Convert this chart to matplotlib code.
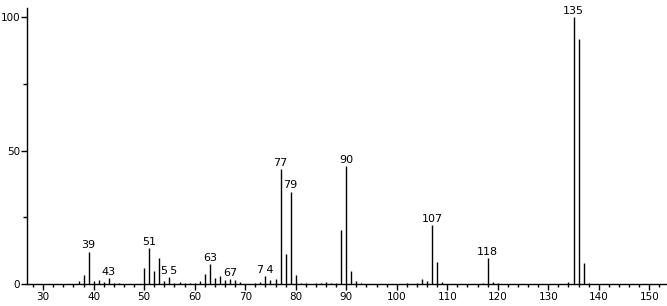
import matplotlib
matplotlib.use("Agg")
import matplotlib.pyplot as plt
from matplotlib.ticker import MultipleLocator

# m/z values and relative intensities
mz = [37, 38, 39, 40, 41, 42, 43, 44, 45,
      50, 51, 52, 53, 54, 55, 56, 57, 58, 59, 60, 61, 62, 63, 64, 65, 66, 67, 68, 69,
      72, 73, 74, 75, 76, 77, 78, 79, 80, 81, 82, 84, 85, 86, 87, 88,
      89, 90, 91, 92, 93, 102, 104, 105, 106, 107, 108, 109,
      117, 118, 119, 120, 134, 135, 136, 137, 138]
intensity = [1.0, 3.4, 12.1, 1.0, 1.5, 0.7, 2.2, 0.5, 0.4,
             6.0, 13.4, 4.9, 9.6, 1.2, 2.6, 0.5, 0.8, 0.5, 0.5, 0.3, 1.0, 3.7, 7.5, 2.4, 3.0, 1.5, 1.9, 1.5, 0.7,
             0.5, 0.6, 3.0, 1.5, 1.8, 43.0, 11.1, 34.6, 3.4, 0.5, 0.5, 0.5, 0.5, 0.6, 0.5, 0.5,
             20.2, 44.2, 5.0, 1.0, 0.4, 0.4, 0.4, 1.8, 1.0, 22.0, 8.1, 0.8,
             0.4, 9.6, 0.7, 0.4, 0.6, 100.0, 91.6, 7.7, 0.5]
labeled = [39, 43, 51, 55, 63, 67, 74, 77, 79, 90, 107, 118, 135]
label_text = ["39", "43", "51", "5\u20095", "63", "67", "7\u20094", "77", "79", "90", "107", "118", "135"]

xticks = list(range(30, 151, 10))
yticks = [0, 50, 100]

plt.rcParams['font.family'] = ['DejaVu Sans']
fig = plt.figure(figsize=(6.67, 3.06), dpi=100)
ax = fig.add_axes([27/667, 22/306, 1 - 27/667, (284 - 8)/306])

ax.vlines(mz, 0, intensity, colors='black', linewidth=1.0)

lookup = dict(zip(mz, intensity))
for m, t in zip(labeled, label_text):
    ax.annotate(t, (m, lookup[m]), xytext=(0, 1), textcoords='offset points',
                ha='center', va='bottom', fontsize=8, color='black')

ax.set_xlim(26.8, 153.5)
ax.set_ylim(0, 103.4)
ax.set_xticks(xticks)
ax.set_yticks(yticks)
ax.xaxis.set_minor_locator(MultipleLocator(2))
ax.yaxis.set_minor_locator(MultipleLocator(25))
for s in ['top', 'right']:
    ax.spines[s].set_visible(False)
for s in ['left', 'bottom']:
    ax.spines[s].set_linewidth(1.0)
ax.tick_params(axis='x', which='major', direction='out', length=4, width=1.0, labelsize=7.5, pad=2)
ax.tick_params(axis='x', which='minor', direction='out', length=2.5, width=1.0)
ax.tick_params(axis='y', which='major', direction='out', length=4, width=1.0, labelsize=7.5, pad=1)
ax.tick_params(axis='y', which='minor', direction='out', length=3, width=1.0)

fig.savefig("out.png", dpi=100)
